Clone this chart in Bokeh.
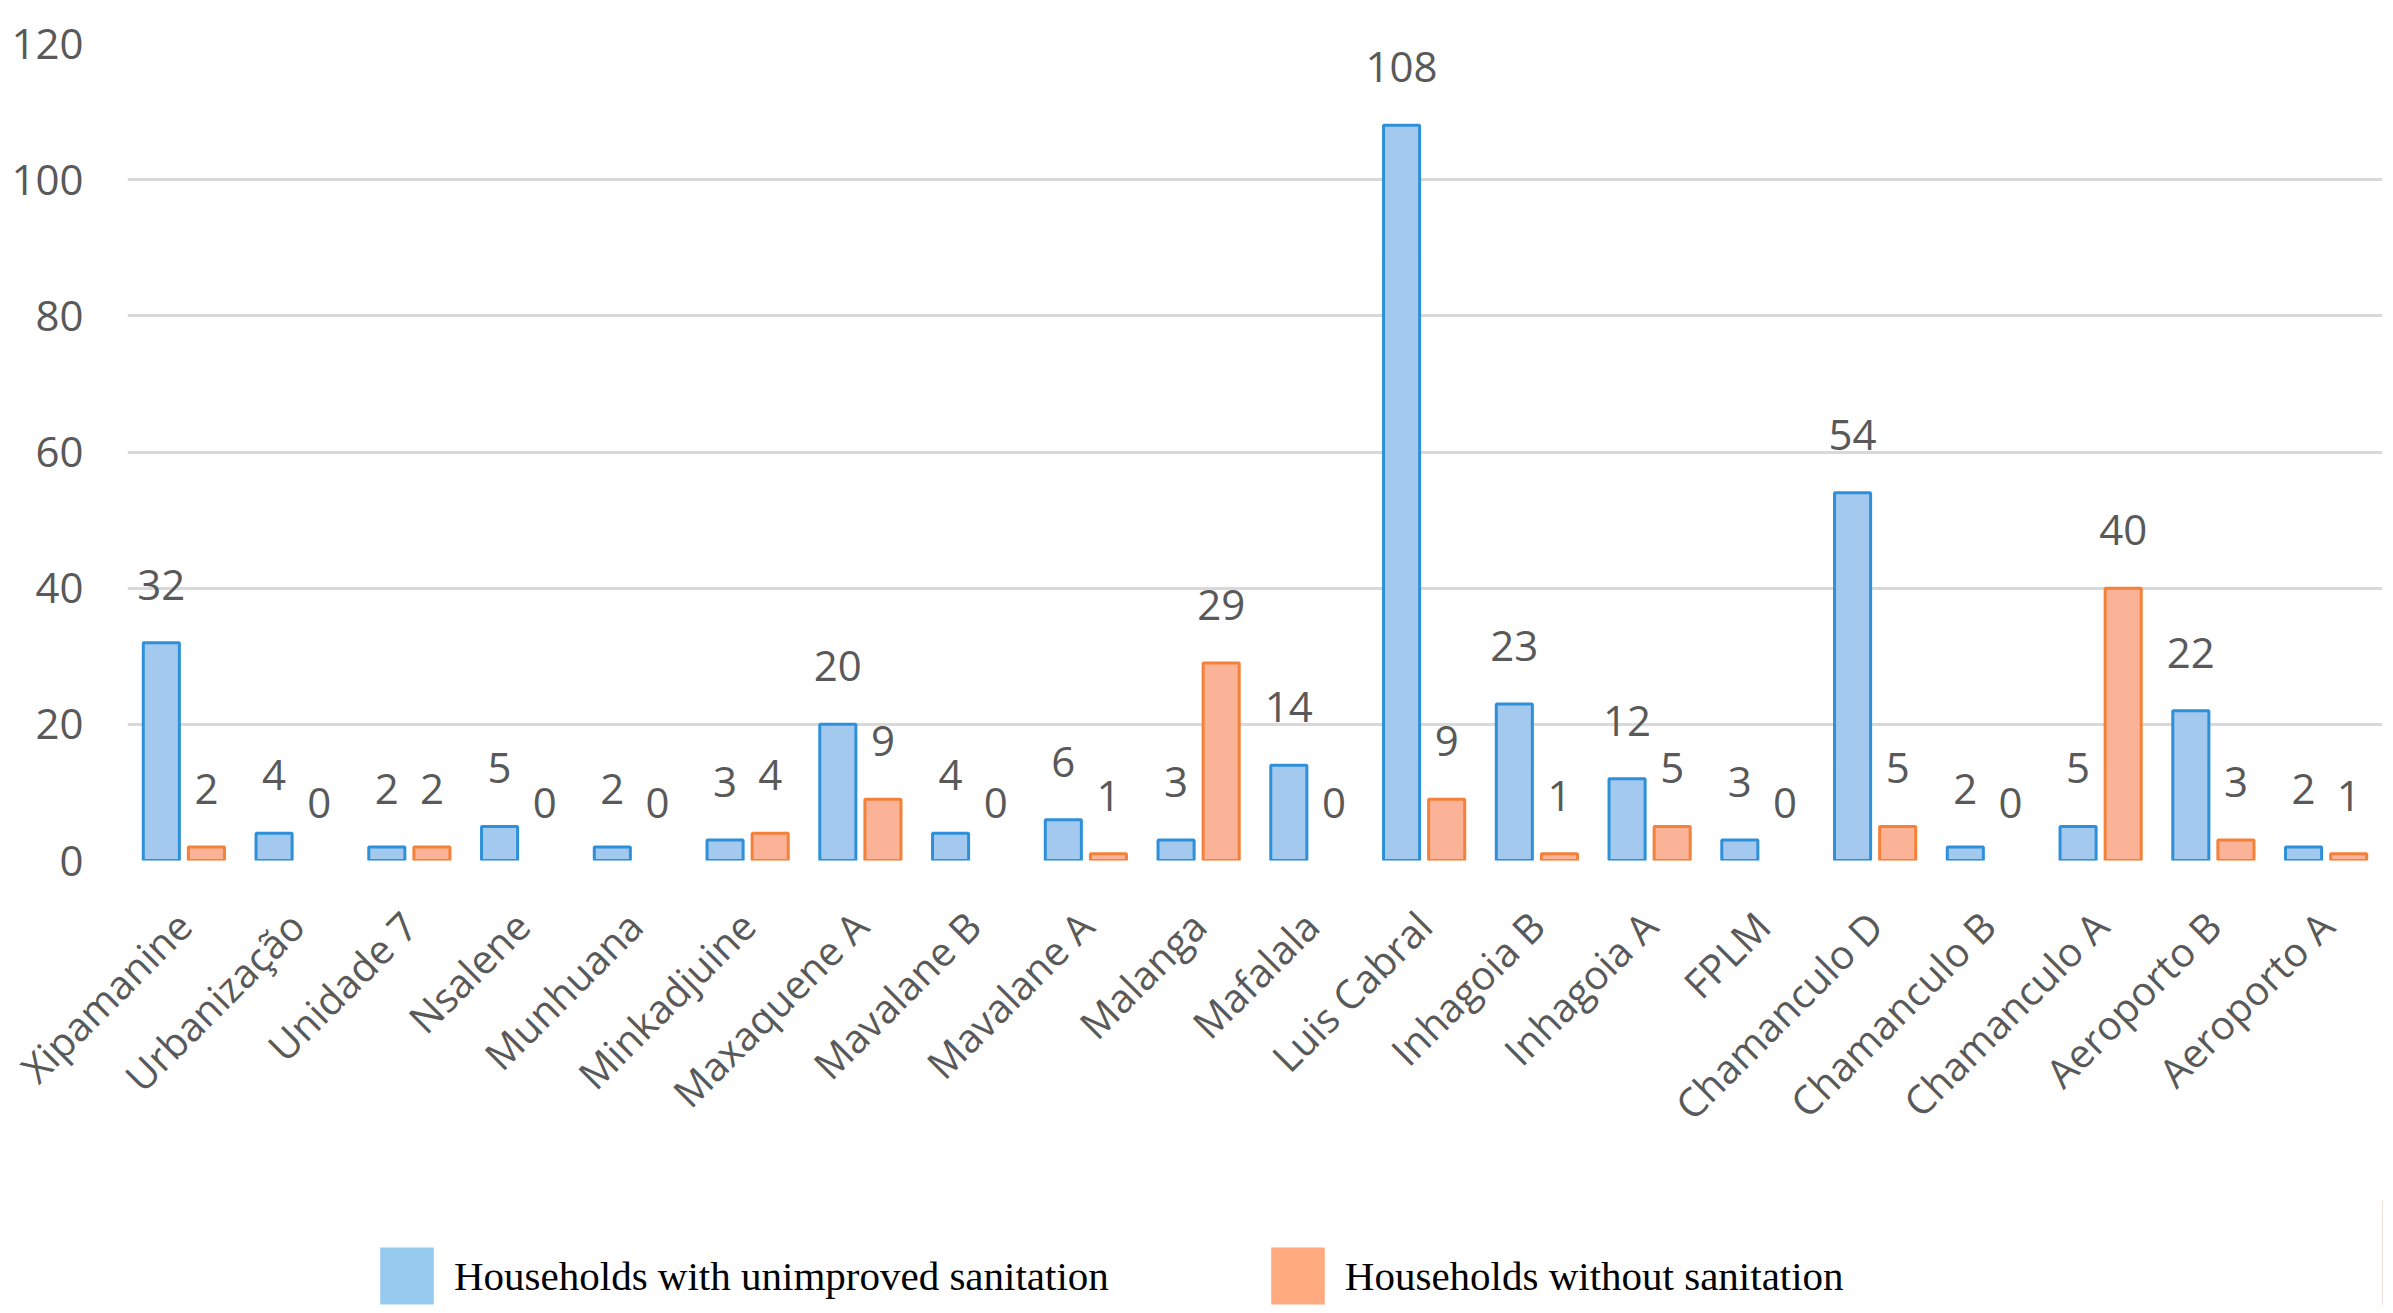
from bokeh.plotting import figure
from bokeh.layouts import column
from bokeh.models import FactorRange, Legend, LegendItem, ColumnDataSource, FixedTicker, CDSView, BooleanFilter
from bokeh.transform import dodge
from bokeh.core.properties import value
from bokeh.embed import file_html
from bokeh.resources import INLINE
import math

categories = ["Xipamanine", "Urbanização", "Unidade 7", "Nsalene", "Munhuana",
              "Minkadjuine", "Maxaquene A", "Mavalane B", "Mavalane A", "Malanga",
              "Mafalala", "Luis Cabral", "Inhagoia B", "Inhagoia A", "FPLM",
              "Chamanculo D", "Chamanculo B", "Chamanculo A", "Aeroporto B", "Aeroporto A"]
unimproved = [32, 4, 2, 5, 2, 3, 20, 4, 6, 3, 14, 108, 23, 12, 3, 54, 2, 5, 22, 2]
without = [2, 0, 2, 0, 0, 4, 9, 0, 1, 29, 0, 9, 1, 5, 0, 5, 0, 40, 3, 1]
y_ticks = [0, 20, 40, 60, 80, 100, 120]
series_labels = ["Households with unimproved sanitation", "Households without sanitation"]

src = ColumnDataSource(dict(cat=categories, a=unimproved, b=without,
                            at=[str(v) for v in unimproved], bt=[str(v) for v in without]))

p = figure(width=2385, height=1200, x_range=FactorRange(factors=categories),
           y_range=(0, 120), output_backend="svg", toolbar_location=None,
           min_border_left=127, min_border_right=3, min_border_top=43, min_border_bottom=340)
p.outline_line_color = None
p.background_fill_color = "white"

grey = "#595959"
font = value("Open Sans")

view_a = CDSView(filter=BooleanFilter([v > 0 for v in unimproved]))
view_b = CDSView(filter=BooleanFilter([v > 0 for v in without]))

p.vbar(x=dodge("cat", -0.2, range=p.x_range), top="a", width=0.32, source=src, view=view_a,
       fill_color="#A3C9EE", line_color="#2E90D8", line_width=3)
p.vbar(x=dodge("cat", 0.2, range=p.x_range), top="b", width=0.32, source=src, view=view_b,
       fill_color="#FBB397", line_color="#F4813A", line_width=3)

p.text(x=dodge("cat", -0.2, range=p.x_range), y="a", text="at", source=src,
       text_align="center", text_baseline="alphabetic", y_offset=-58,
       text_font=font, text_font_size="42px", text_color=grey)
p.text(x=dodge("cat", 0.2, range=p.x_range), y="b", text="bt", source=src,
       text_align="center", text_baseline="alphabetic", y_offset=-58,
       text_font=font, text_font_size="42px", text_color=grey)

p.yaxis.ticker = FixedTicker(ticks=y_ticks)
p.yaxis.axis_line_color = None
p.yaxis.major_tick_line_color = None
p.yaxis.minor_tick_line_color = None
p.yaxis.major_label_standoff = 38
p.yaxis.major_label_text_font = "Open Sans"
p.yaxis.major_label_text_font_size = "42px"
p.yaxis.major_label_text_color = grey

p.xaxis.axis_line_color = None
p.xaxis.major_tick_line_color = None
p.xaxis.major_label_orientation = math.pi / 4
p.xaxis.major_label_standoff = 52
p.xaxis.major_label_text_font = "Open Sans"
p.xaxis.major_label_text_font_size = "40px"
p.xaxis.major_label_text_color = grey

p.xgrid.grid_line_color = None
p.ygrid.grid_line_color = "#D9D9D9"
p.ygrid.grid_line_width = 3

# legend strip below the chart (its frame is aligned with the chart's frame)
lf = figure(width=2385, height=105, x_range=(0, 1), y_range=(0, 1), output_backend="svg",
            toolbar_location=None, min_border=0)
lf.axis.visible = False
lf.grid.visible = False
lf.outline_line_color = None
# swatch renderers: single point placed outside the visible range
leg_a = lf.vbar(x=[5], top=[1], width=0.3, fill_color="#97CAEF", line_color=None)
leg_b = lf.vbar(x=[5], top=[1], width=0.3, fill_color="#FFAA7F", line_color=None)
legend = Legend(items=[LegendItem(label=series_labels[0], renderers=[leg_a]),
                       LegendItem(label=series_labels[1], renderers=[leg_b])],
                orientation="horizontal", location=(246, -6),
                glyph_width=67, glyph_height=71, label_standoff=14, spacing=155,
                padding=0, margin=0, border_line_color=None, background_fill_alpha=0,
                label_text_font="Liberation Serif", label_text_font_size="41px",
                label_text_color="black", label_height=71)
lf.add_layout(legend, "center")

open("out.html", "w").write(file_html(column(p, lf), INLINE))
